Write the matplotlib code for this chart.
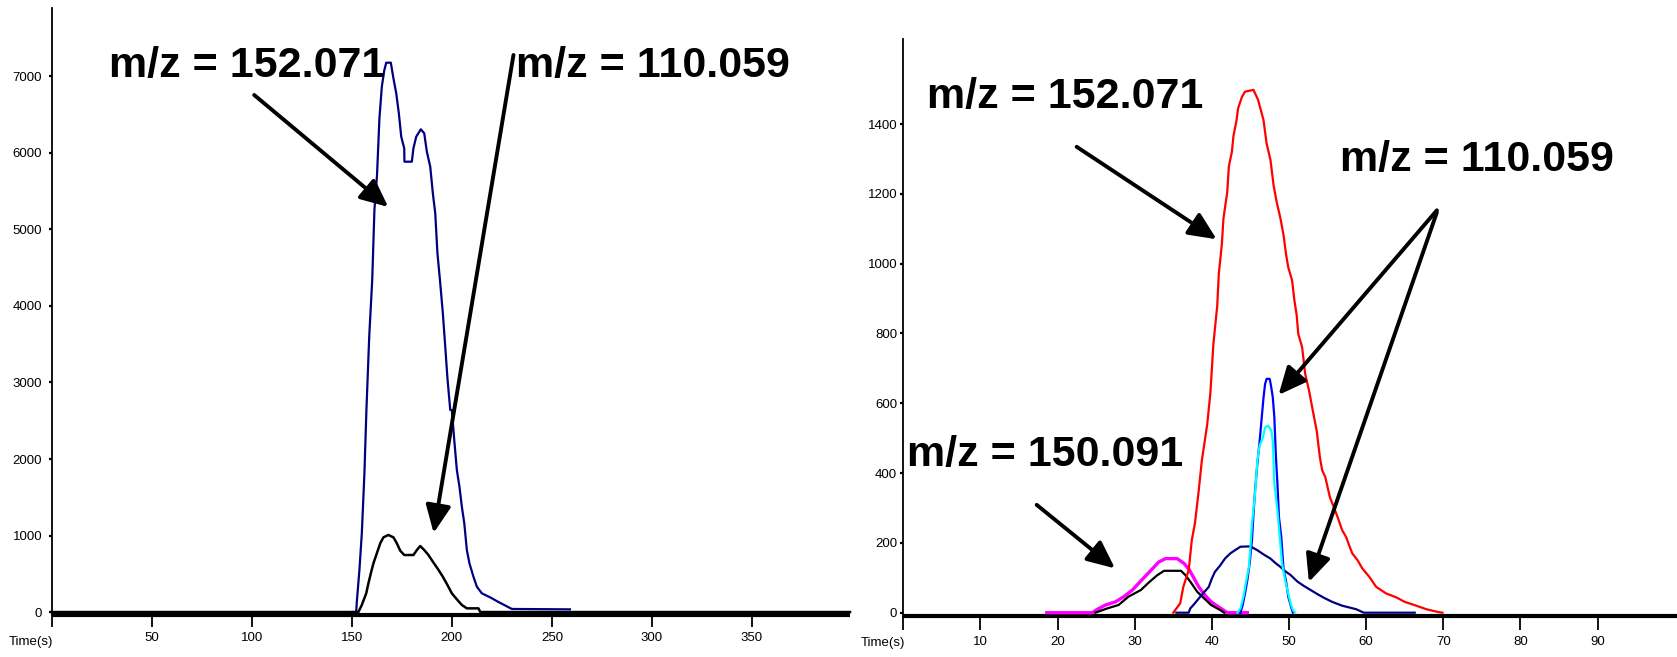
import matplotlib
matplotlib.use("Agg")
import matplotlib.pyplot as plt
from matplotlib import font_manager as fm

# ---------------- data: left panel (Time s, intensity) ----------------
left_t_navy = [150, 152.2, 152.5, 153.8, 155.0, 156.3, 157.3, 158.7, 160.2, 161.3, 162.6,
               163.8, 165.0, 166.2, 167.2, 169.5, 170.8, 172.2, 173.5, 174.7, 176.2, 176.3,
               180.0, 180.8, 182.2, 184.5, 186.2, 187.5, 189.2, 190.5, 191.7, 192.8, 194.2,
               195.5, 196.7, 197.8, 199.2, 200.0, 201.2, 202.5, 203.8, 205.0, 206.2, 207.5,
               208.8, 210.8, 212.5, 215.0, 219.5, 223.0, 230.0, 259.0]
left_navy = [0, 0, 135, 549, 1028, 1813, 2641, 3599, 4340, 5255, 5712,
             6453, 6867, 7076, 7180, 7180, 6976, 6780, 6519, 6213, 6061, 5886,
             5886, 6061, 6213, 6309, 6257, 6017, 5821, 5473, 5212, 4689, 4297,
             3904, 3468, 3055, 2641, 2640, 2248, 1856, 1638, 1377, 1163, 810,
             636, 461, 331, 244, 187, 135, 40, 35]

left_t_black = [0, 153.3, 155.0, 157.2, 158.3, 159.5, 160.8, 162.5, 164.2, 165.8, 168.3,
                170.8, 172.5, 174.2, 176.2, 180.8, 182.5, 184.2, 186.2, 188.3, 190.5,
                192.8, 195.5, 197.8, 200.0, 202.5, 205.0, 207.5, 213.3, 214.2, 399]
left_black = [0, 0, 92, 244, 375, 505, 636, 767, 898, 976, 1007,
              976, 898, 802, 745, 745, 810, 863, 810, 745, 658,
              571, 461, 353, 244, 166, 92, 48, 48, 0, 0]

left_xticks = [0, 50, 100, 150, 200, 250, 300, 350]
left_xticklabels = ["", "50", "100", "150", "200", "250", "300", "350"]
left_yticks = [0, 1000, 2000, 3000, 4000, 5000, 6000, 7000]

# ---------------- data: right panel ----------------
right_t_magenta = [18.6, 24.5, 25.1, 26.2, 27.5, 28.6, 29.7, 30.5, 31.4, 32.3, 33.1, 34.0,
                   35.5, 36.4, 37.1, 37.7, 38.3, 39.0, 39.9, 40.7, 41.6, 42.0, 44.6]
right_magenta = [0, 0, 9, 22, 31, 46, 65, 84, 105, 126, 145, 155,
                 155, 141, 122, 98, 74, 53, 31, 19, 6, 0, 0]

right_t_black = [24.9, 26.4, 27.9, 29.2, 30.8, 31.8, 32.9, 33.8, 36.0, 36.6, 37.3, 38.1,
                 39.0, 39.9, 41.2, 41.6]
right_black = [0, 12, 22, 46, 65, 86, 107, 120, 120, 107, 86, 60,
               41, 22, 6, 0]

right_t_red = [35.0, 35.4, 35.9, 36.3, 37.0, 37.4, 37.8, 38.3, 38.7, 39.0, 39.4, 39.8,
               40.2, 40.7, 40.9, 41.3, 41.5, 42.0, 42.2, 42.6, 42.8, 43.2, 43.4, 43.9,
               44.3, 45.4, 46.0, 46.7, 47.1, 47.6, 48.0, 48.4, 48.9, 49.3, 49.6, 49.9,
               50.4, 50.7, 51.0, 51.2, 51.7, 52.1, 52.6, 53.0, 53.6, 54.0, 54.3, 54.7,
               55.0, 55.3, 55.8, 56.3, 56.9, 57.4, 57.8, 58.2, 58.9, 59.5, 60.4, 61.3,
               62.6, 63.9, 65.0, 66.5, 67.8, 69.3, 69.9]
right_red = [0, 12, 27, 74, 122, 208, 255, 350, 436, 480, 540, 627,
             770, 880, 971, 1057, 1129, 1206, 1278, 1321, 1366, 1411, 1445, 1478,
             1493, 1498, 1469, 1411, 1344, 1297, 1225, 1177, 1129, 1081, 1029, 990,
             952, 895, 852, 799, 761, 684, 636, 589, 520, 446, 408, 389,
             360, 331, 303, 274, 236, 217, 193, 170, 150, 127, 103, 74,
             55, 44, 31, 20, 10, 2, 0]

right_t_navy = [35.4, 37.0, 37.2, 37.8, 38.5, 39.6, 40.0, 40.4, 41.1, 41.7, 42.4, 43.0,
                43.7, 45.0, 45.9, 46.7, 47.6, 48.2, 48.9, 49.5, 50.2, 51.1, 51.9, 52.8,
                53.7, 54.5, 55.6, 56.9, 58.7, 59.7, 66.3]
right_navy = [0, 0, 12, 27, 46, 74, 98, 117, 136, 155, 170, 179,
              189, 190, 179, 167, 155, 143, 131, 119, 108, 89, 77, 65,
              53, 43, 31, 20, 10, 0, 0]

right_t_blue = [43.7, 44.0, 44.3, 44.6, 44.9, 45.2, 45.4, 45.6, 45.9, 46.2, 46.7, 46.9,
                47.1, 47.5, 47.7, 47.9, 48.1, 48.3, 48.5, 48.7, 49.0, 49.3, 49.6, 49.9,
                50.2, 50.5]
right_blue = [0, 22, 55, 93, 141, 208, 284, 350, 427, 493, 617, 655,
              670, 670, 646, 617, 560, 450, 370, 274, 217, 122, 93, 46,
              22, 0]

right_t_cyan = [43.3, 43.7, 44.1, 44.4, 44.8, 45.0, 45.2, 45.6, 45.9, 46.2, 46.6, 46.9,
                47.3, 47.7, 47.9, 48.1, 48.5, 48.8, 49.1, 49.5, 49.9, 50.2, 50.5, 50.8]
right_cyan = [0, 12, 46, 84, 131, 189, 255, 341, 436, 480, 500, 531,
              536, 522, 493, 370, 293, 217, 141, 93, 55, 27, 8, 0]

right_xticks = [0, 10, 20, 30, 40, 50, 60, 70, 80, 90]
right_xticklabels = ["", "10", "20", "30", "40", "50", "60", "70", "80", "90"]
right_yticks = [0, 200, 400, 600, 800, 1000, 1200, 1400]

axis_label = "Time(s)"
lab_152 = "m/z = 152.071"
lab_110 = "m/z = 110.059"
lab_150 = "m/z = 150.091"

# ---------------- fonts ----------------
def has_font(name):
    try:
        fm.findfont(fm.FontProperties(family=name, weight="bold"), fallback_to_default=False)
        return True
    except Exception:
        return False

if has_font("Liberation Sans Narrow"):
    big_family, big_size = "Liberation Sans Narrow", 37
elif has_font("Liberation Sans"):
    big_family, big_size = "Liberation Sans", 31
else:
    big_family, big_size = "DejaVu Sans", 28
tick_family = "Liberation Sans" if has_font("Liberation Sans") else "DejaVu Sans"

W, H = 1677, 657
fig = plt.figure(figsize=(W / 100, H / 100), dpi=100)
fig.patch.set_facecolor("white")

ax1 = fig.add_axes([51.7 / W, (H - 614.7) / H, 798.3 / W, (614.7 - 7.6) / H])
ax2 = fig.add_axes([903.3 / W, (H - 616.0) / H, 773.7 / W, (616.0 - 39.3) / H])

for ax in (ax1, ax2):
    ax.set_facecolor("white")
    ax.spines["top"].set_visible(False)
    ax.spines["right"].set_visible(False)
    ax.spines["left"].set_linewidth(1.3)
    ax.spines["bottom"].set_linewidth(3.0)
    ax.spines["bottom"].set_capstyle("butt")

# left panel
ax1.plot(left_t_navy, left_navy, color="#000080", lw=1.6, zorder=3)
ax1.plot(left_t_black, left_black, color="black", lw=1.8, zorder=4, clip_on=False)
ax1.set_xlim(0, 399)
ax1.set_ylim(-35, 7900)
ax1.set_xticks(left_xticks)
ax1.set_xticklabels(left_xticklabels)
ax1.set_yticks(left_yticks)
ax1.set_yticklabels([str(v) for v in left_yticks])
ax1.tick_params(axis="y", direction="out", length=2.4, width=1.6, pad=4.5,
                labelsize=9.5, colors="black")
ax1.tick_params(axis="x", direction="out", length=8.6, width=1.3, pad=4.0,
                labelsize=9.5, colors="black")

# right panel
ax2.plot(right_t_magenta, right_magenta, color="#FF00FF", lw=2.4, zorder=3)
ax2.plot(right_t_black, right_black, color="black", lw=1.6, zorder=4)
ax2.plot(right_t_red, right_red, color="#FF0000", lw=1.6, zorder=5)
ax2.plot(right_t_navy, right_navy, color="#000080", lw=1.6, zorder=6)
ax2.plot(right_t_blue, right_blue, color="#0000FF", lw=1.6, zorder=7)
ax2.plot(right_t_cyan, right_cyan, color="#00FFFF", lw=1.6, zorder=8)
ax2.set_xlim(0, 100.3)
ax2.set_ylim(-9.5, 1643)
ax2.set_xticks(right_xticks)
ax2.set_xticklabels(right_xticklabels)
ax2.set_yticks(right_yticks)
ax2.set_yticklabels([str(v) for v in right_yticks])
ax2.tick_params(axis="y", direction="out", length=2.4, width=1.6, pad=2.0,
                labelsize=9.5, colors="black")
ax2.tick_params(axis="x", direction="out", length=10, width=1.3, pad=4.5,
                labelsize=9.5, colors="black")

for ax in (ax1, ax2):
    for lab in ax.get_xticklabels() + ax.get_yticklabels():
        lab.set_family(tick_family)
    ax.annotate(axis_label, xy=(0, 0), xycoords=("data", "axes fraction"),
                xytext=(1, -15), textcoords="offset points", ha="right", va="top",
                fontsize=9.5, family=tick_family, annotation_clip=False)

big = dict(fontsize=big_size, fontweight="bold", family=big_family, color="black",
           ha="center", va="baseline", zorder=10)
arrow = dict(arrowstyle="-|>,head_length=0.7,head_width=0.32", color="black",
             lw=2.8, mutation_scale=24, shrinkA=0, shrinkB=0)

# left annotations
ax1.text(97.9, 6993, lab_152, **big)
ax1.text(300.6, 6993, lab_110, **big)
ax1.annotate("", xy=(168.2, 5294), xytext=(101.2, 6758), arrowprops=arrow,
             annotation_clip=False, zorder=9)
ax1.annotate("", xy=(190.9, 1033), xytext=(230.8, 7281), arrowprops=arrow,
             annotation_clip=False, zorder=9)

# right annotations
ax2.text(20.96, 1445, lab_152, **big)
ax2.text(74.4, 1266, lab_110, **big)
ax2.text(18.36, 420, lab_150, **big)
ax2.annotate("", xy=(40.62, 1070), xytext=(22.47, 1335), arrowprops=arrow,
             annotation_clip=False, zorder=9)
ax2.annotate("", xy=(48.65, 624), xytext=(69.17, 1153), arrowprops=arrow,
             annotation_clip=False, zorder=9)
ax2.annotate("", xy=(52.58, 88), xytext=(69.17, 1147), arrowprops=arrow,
             annotation_clip=False, zorder=9)
ax2.annotate("", xy=(27.44, 127), xytext=(17.29, 309), arrowprops=arrow,
             annotation_clip=False, zorder=9)

fig.savefig("out.png", dpi=100, facecolor="white")
